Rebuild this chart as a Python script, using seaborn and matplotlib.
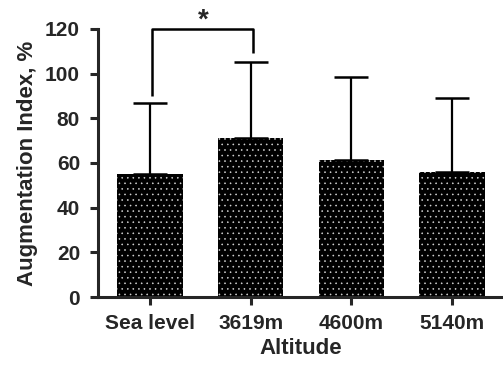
import numpy as np
import matplotlib
matplotlib.use("Agg")
import matplotlib.pyplot as plt
import seaborn as sns

# ── Data ──
altitudes = ["Sea level", "3619m", "4600m", "5140m"]
aix_mean = [55, 71, 61.5, 56]
aix_sd = [32, 34, 37, 33]
yticks = [0, 20, 40, 60, 80, 100, 120]

sns.set_style("ticks")
plt.rcParams["font.family"] = ["Liberation Sans", "DejaVu Sans"]
plt.rcParams["font.weight"] = "bold"
plt.rcParams["hatch.linewidth"] = 0.4

fig = plt.figure(figsize=(5.03, 3.65), dpi=100)
ax = fig.add_axes([0.195, 0.186, 0.805, 0.735])

sns.barplot(x=altitudes, y=aix_mean, color="black", width=0.65,
            errorbar=None, saturation=1, ax=ax)
for bar in ax.patches:
    bar.set_facecolor("black")
    bar.set_edgecolor("#d8d8d8")
    bar.set_linewidth(0)
    bar.set_hatch("...")

# upward-only SD bars
pos = np.arange(len(altitudes))
ax.errorbar(pos, aix_mean, yerr=[np.zeros(len(aix_sd)), aix_sd], fmt="none",
            ecolor="black", elinewidth=1.6, capsize=12.5, capthick=1.8, zorder=1)

# significance bracket Sea level vs 3619m
ax.plot([0.025, 0.025, 1.025, 1.025], [90, 120, 120, 109], color="black",
        lw=1.8, clip_on=False, solid_capstyle="butt")
ax.text(0.53, 118, "*", ha="center", va="bottom", fontsize=20, fontweight="bold")

ax.set_xlim(-0.515, 3.505)
ax.set_ylim(0, 120)
ax.set_yticks(yticks)
ax.set_xlabel("Altitude", fontsize=16, fontweight="bold", labelpad=4)
ax.set_ylabel("Augmentation Index, %", fontsize=16, fontweight="bold", labelpad=5)
ax.tick_params(axis="both", labelsize=15, width=2.2, length=6, direction="out")
ax.tick_params(axis="y", pad=7)
ax.tick_params(axis="x", pad=6)
for lab in ax.get_xticklabels() + ax.get_yticklabels():
    lab.set_fontweight("bold")
for side in ["left", "bottom"]:
    ax.spines[side].set_linewidth(2.2)
sns.despine(ax=ax)
ax.spines["left"].set_capstyle("projecting")

fig.savefig("out.png", dpi=100)
plt.close(fig)
